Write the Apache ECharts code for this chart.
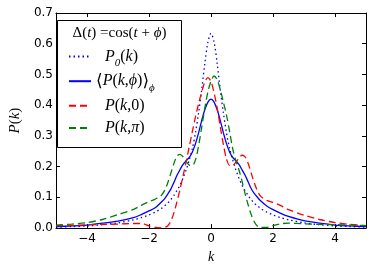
<!DOCTYPE html>
<html><head><meta charset="utf-8">
<script src="https://cdn.jsdelivr.net/npm/echarts@6/dist/echarts.min.js"></script>
<style>html,body{margin:0;padding:0;background:#fff}#c{width:374px;height:269px}</style>
</head><body><div id="c"></div>
<script>
// k grid (shared by all curves)
const kValues = [-5,-4.5,-4,-3.5,-3,-2.5,-2.25,-2,-1.8,-1.6,-1.5,-1.4,-1.3,-1.2,-1.1,-1.0,-0.9,-0.8,-0.7,-0.6,-0.5,-0.4,-0.3,-0.2,-0.1,0,0.1,0.2,0.3,0.4,0.5,0.6,0.7,0.8,0.9,1.0,1.1,1.2,1.3,1.4,1.5,1.6,1.8,2,2.25,2.5,3,3.5,4,4.5,5];
// P_0(k)  (dotted blue)
const p0 = [0.003,0.005,0.007,0.011,0.017,0.027,0.034,0.043,0.052,0.064,0.072,0.081,0.092,0.106,0.122,0.140,0.163,0.190,0.222,0.260,0.310,0.375,0.450,0.535,0.605,0.634,0.605,0.535,0.450,0.375,0.310,0.260,0.222,0.190,0.163,0.140,0.122,0.106,0.092,0.081,0.072,0.064,0.052,0.043,0.034,0.027,0.017,0.011,0.007,0.005,0.003];
// <P(k,phi)>_phi  (solid blue)
const pAvg = [0.005,0.007,0.010,0.016,0.023,0.034,0.044,0.056,0.066,0.085,0.095,0.110,0.126,0.148,0.171,0.190,0.207,0.219,0.230,0.248,0.275,0.310,0.350,0.385,0.410,0.420,0.410,0.385,0.350,0.310,0.275,0.248,0.230,0.219,0.207,0.190,0.172,0.150,0.128,0.112,0.100,0.089,0.072,0.060,0.048,0.038,0.024,0.016,0.010,0.007,0.005];
// P(k,0)  (dashed red)
const pZero = [0.008,0.009,0.011,0.012,0.013,0.015,0.015,0.007,0.002,0.001,0.002,0.007,0.022,0.048,0.085,0.126,0.170,0.217,0.265,0.315,0.362,0.405,0.443,0.475,0.490,0.477,0.440,0.390,0.330,0.272,0.225,0.204,0.204,0.214,0.228,0.237,0.232,0.210,0.178,0.146,0.121,0.104,0.090,0.084,0.073,0.060,0.042,0.028,0.018,0.012,0.008];
// P(k,pi)  (dashed green)
const pPi = [0.010,0.013,0.018,0.028,0.044,0.061,0.074,0.086,0.094,0.107,0.122,0.146,0.177,0.209,0.234,0.240,0.232,0.217,0.205,0.204,0.222,0.268,0.328,0.390,0.443,0.478,0.495,0.483,0.450,0.410,0.368,0.315,0.258,0.220,0.190,0.153,0.112,0.075,0.043,0.020,0.006,0.002,0.002,0.008,0.014,0.016,0.014,0.012,0.011,0.010,0.008];

const xTicks = [-4, -2, 0, 2, 4];
const yTicks = [0, 0.1, 0.2, 0.3, 0.4, 0.5, 0.6, 0.7];
const seriesNames = ['P_0(k)', '<P(k,phi)>_phi', 'P(k,0)', 'P(k,pi)'];

const legendText = {
  'P_0(k)': '{sp| }{i|P}{s|0}{n|(}{i|k}{n|)}',
  '<P(k,phi)>_phi': '{b|\u27E8}{i|P}{n|(}{i|k}{n|,}{i|\u03D5}{n|)}{b|\u27E9}{s|\u03D5}',
  'P(k,0)': '{sp| }{i|P}{n|(}{i|k}{n|,0)}',
  'P(k,pi)': '{sp| }{i|P}{n|(}{i|k}{n|,}{i|\u03C0}{n|)}'
};
const SERIF = '"Liberation Serif","DejaVu Serif",serif';
const richMath = {
  i: {fontFamily: SERIF, fontStyle: 'italic', fontSize: 16, lineHeight: 24, color: '#000'},
  n: {fontFamily: SERIF, fontSize: 16, lineHeight: 24, color: '#000'},
  b: {fontFamily: '"DejaVu Serif",serif', fontSize: 17, lineHeight: 24, color: '#000'},
  s: {fontFamily: SERIF, fontStyle: 'italic', fontSize: 11, lineHeight: 13, verticalAlign: 'bottom', color: '#000'},
  sp: {width: 9, fontSize: 16, lineHeight: 24}
};

function pairs(arr) { return kValues.map((k, i) => [k, arr[i]]); }

const chart = echarts.init(document.getElementById('c'), null, {renderer: 'canvas'});

const axisCommon = {
  axisLine: {show: true, onZero: false, lineStyle: {color: '#000', width: 1}},
  splitLine: {show: false}
};

chart.setOption({
  animation: false,
  backgroundColor: '#fff',
  grid: {left: 49, right: 8, top: 13, bottom: 39, containLabel: false},
  xAxis: [
    Object.assign({
      type: 'value', min: -5, max: 5, position: 'bottom',
      axisTick: {show: true, inside: true, length: 4, lineStyle: {color: '#000'}, customValues: xTicks},
      axisLabel: {customValues: xTicks, margin: 5, color: '#000', fontFamily: 'DejaVu Sans', fontSize: 12,
        formatter: v => String(v).replace('-', '\u2212')},
      name: '{i|k}', nameLocation: 'middle', nameGap: 14,
      nameTextStyle: {rich: {i: {fontFamily: SERIF, fontStyle: 'italic', fontSize: 14, color: '#000'}}}
    }, axisCommon),
    Object.assign({
      type: 'value', min: -5, max: 5, position: 'top',
      axisTick: {show: true, inside: true, length: 4, lineStyle: {color: '#000'}, customValues: xTicks},
      axisLabel: {show: false}
    }, axisCommon)
  ],
  yAxis: [
    Object.assign({
      type: 'value', min: 0, max: 0.7, position: 'left',
      axisTick: {show: true, inside: true, length: 4, lineStyle: {color: '#000'}, customValues: yTicks},
      axisLabel: {customValues: yTicks, margin: 3, color: '#000', fontFamily: 'DejaVu Sans', fontSize: 12,
        formatter: v => v.toFixed(1)},
      name: '{i|P}{n|(}{i|k}{n|)}', nameLocation: 'middle', nameGap: 26,
      nameTextStyle: {rich: {
        i: {fontFamily: SERIF, fontStyle: 'italic', fontSize: 15, color: '#000'},
        n: {fontFamily: SERIF, fontSize: 15, color: '#000'}}}
    }, axisCommon),
    Object.assign({
      type: 'value', min: 0, max: 0.7, position: 'right',
      axisTick: {show: true, inside: true, length: 4, lineStyle: {color: '#000'}, customValues: yTicks},
      axisLabel: {show: false}
    }, axisCommon)
  ],
  legend: {
    orient: 'vertical', left: 68, top: 47, padding: 0, itemGap: 3,
    itemWidth: 22, itemHeight: 24, itemTextGap: 11, selectedMode: false, z: 6,
    itemStyle: {opacity: 0},
    data: seriesNames,
    formatter: name => legendText[name],
    textStyle: {color: '#000', fontFamily: SERIF, fontSize: 16, rich: richMath}
  },
  graphic: [
    {type: 'rect', z: 5, shape: {x: 57.5, y: 20.5, width: 124, height: 127},
     style: {fill: '#fff', stroke: '#000', lineWidth: 1}},
    {type: 'text', z: 7, x: 119.5, y: 33,
     style: {text: '{n|\u0394(}{i|t}{n|) =cos(}{i|t}{n| + }{i|\u03D5}{n|)}',
       align: 'center', verticalAlign: 'middle',
       rich: {n: {fontFamily: SERIF, fontSize: 15, fill: '#000'},
              i: {fontFamily: SERIF, fontStyle: 'italic', fontSize: 15, fill: '#000'}}}}
  ],
  series: [
    {name: seriesNames[0], type: 'line', data: pairs(p0), symbol: 'none', smooth: 0.3, color: '#0000ff',
     lineStyle: {color: '#0000ff', width: 1.3, type: [1.5, 3]}},
    {name: seriesNames[1], type: 'line', data: pairs(pAvg), symbol: 'none', smooth: 0.3, color: '#0000ff',
     lineStyle: {color: '#0000ff', width: 1.3, type: 'solid'}},
    {name: seriesNames[2], type: 'line', data: pairs(pZero), symbol: 'none', smooth: 0.3, color: '#ff0000',
     lineStyle: {color: '#ff0000', width: 1.3, type: [7, 4]}},
    {name: seriesNames[3], type: 'line', data: pairs(pPi), symbol: 'none', smooth: 0.3, color: '#008000',
     lineStyle: {color: '#008000', width: 1.3, type: [7, 4]}}
  ]
});
</script>
</body></html>
